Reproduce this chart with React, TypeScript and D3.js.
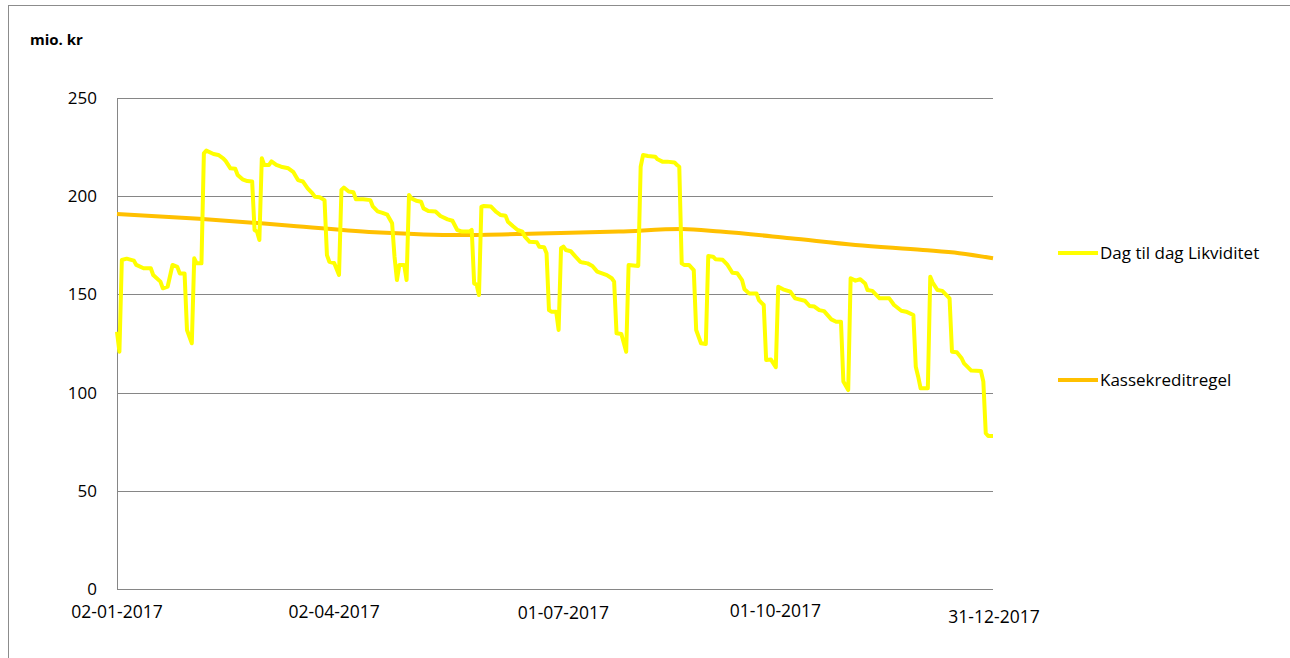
import React, { useEffect, useRef } from 'react';
import * as d3 from 'd3';

// days counted from 02-01-2017
const liquidityDays = [
  0, 1, 2, 4, 7, 8, 11, 14, 15, 18, 19, 21, 23, 25, 26, 28, 29, 31, 32, 33,
  35, 36, 37, 40, 42, 44, 45, 47, 49, 50, 52, 54, 56, 57, 58, 59, 60, 61, 63, 64,
  66, 68, 71, 73, 75, 77, 79, 81, 82, 84, 86, 87, 88, 90, 92, 93, 94, 96, 98, 99,
  102, 105, 106, 108, 110, 112, 114, 115, 116, 117, 119, 120, 121, 122, 124, 126, 127, 129, 132, 134,
  137, 139, 141, 143, 146, 147, 148, 149, 150, 151, 152, 155, 157, 159, 161, 162, 164, 166, 168, 169,
  171, 174, 175, 177, 178, 179, 180, 182, 183, 184, 185, 186, 188, 190, 192, 193, 195, 197, 199, 201,
  203, 205, 206, 207, 209, 211, 212, 216, 217, 218, 220, 223, 224, 226, 228, 231, 232, 233, 234, 235,
  237, 239, 240, 242, 244, 245, 247, 248, 251, 253, 255, 257, 259, 260, 262, 265, 266, 268, 269, 271,
  273, 274, 276, 279, 281, 285, 287, 289, 291, 293, 296, 298, 300, 301, 303, 304, 306, 308, 310, 311,
  313, 316, 320, 322, 325, 327, 330, 331, 332, 333, 336, 337, 338, 340, 342, 345, 346, 348, 350, 351,
  354, 358, 359, 360, 361, 363,
];

const liquidityValues = [
  131, 120.8, 167.5, 168.2, 167.2, 165, 163.3, 163.3, 159.9, 156.5, 153.1, 154, 165, 164, 160.7, 160.7, 131.9, 125.1, 168.4, 165.8,
  165.8, 221.8, 223.2, 221.5, 221, 219.3, 218, 214.2, 214, 210.8, 208.6, 207.7, 207.5, 182.8, 182, 177.7, 219.3, 215.9, 215.9, 217.7,
  215.9, 215, 214.2, 212.4, 208.2, 207.5, 204, 201.4, 199.7, 199.5, 198, 170, 166.6, 166, 159.9, 203.2, 204.4, 202.4, 202, 198.4,
  198.4, 198, 194.8, 192.3, 191.5, 190.6, 186.2, 169.2, 157.3, 165, 165, 157.3, 200.6, 198.9, 197.7, 197.2, 193.8, 192.5, 192.2, 189.9,
  188.2, 187.5, 182.8, 182, 182, 182.8, 155.6, 155, 149.7, 194.7, 195, 194.7, 192.1, 190.4, 190, 187, 184.8, 182.8, 182, 179.4,
  176.8, 176.5, 174.3, 174, 170.9, 142, 141.2, 141.2, 131.9, 173.5, 174.3, 172.6, 172, 169.2, 166.6, 166.2, 165.8, 164.5, 161.6, 160.7,
  159.8, 158.2, 156.5, 130.2, 129.8, 120.8, 165, 164.5, 215, 221, 220.5, 220.1, 218.8, 217.6, 217.6, 217.2, 215.9, 215, 165.8, 165,
  165, 162.4, 131.9, 125.1, 124.8, 169.5, 169.2, 167.9, 167.6, 165, 161, 160.8, 157.3, 152.6, 150.5, 150.5, 147.1, 144.6, 116.6, 116.8,
  112.9, 153.9, 152.6, 151.4, 148, 146.8, 144.1, 143.8, 142, 141.5, 137.3, 136.1, 136.1, 105.6, 101.3, 158.2, 157, 157.7, 155.6, 152.2,
  151.8, 148, 148, 144.6, 141.7, 141.2, 139.5, 113.2, 108.1, 102.2, 102.2, 159, 156, 152.2, 151.8, 148, 120.8, 120.5, 117.5, 114.9,
  111.2, 111, 105.6, 79.3, 77.9, 77.9,
];

const ruleDays = [0, 34, 72, 109, 142, 175, 208, 234, 250, 279, 306, 334, 349, 363];
const ruleValues = [191, 188.5, 185, 181.5, 180.2, 181, 182, 183.3, 182, 178.6, 175.2, 172.6, 171, 168.4];

const xTickDates = ['2017-01-02', '2017-04-02', '2017-07-01', '2017-10-01', '2017-12-31'];
const yTicks = [0, 50, 100, 150, 200, 250];

const seriesNames = ['Dag til dag Likviditet', 'Kassekreditregel'];
const seriesColors = ['#FFFF00', '#FFC000'];

const font = '"Open Sans", sans-serif';

const App: React.FC = () => {
  const width = 1290;
  const height = 658;
  const svgRef = useRef<SVGSVGElement>(null);

  useEffect(() => {
    if (!svgRef.current) return;
    const svg = d3.select(svgRef.current);
    svg.selectAll('*').remove();

    const start = new Date(Date.UTC(2017, 0, 2));
    const end = new Date(Date.UTC(2017, 11, 31));

    const x = d3.scaleUtc().domain([start, end]).range([117, 993]);
    const y = d3.scaleLinear().domain([0, 250]).range([589, 98]);

    // outer frame
    svg.append('rect')
      .attr('x', 8.5).attr('y', 5.5)
      .attr('width', width).attr('height', height)
      .attr('fill', 'white')
      .attr('stroke', '#8c8c8c');

    // gridlines
    yTicks.filter(t => t > 0).forEach(t => {
      svg.append('line')
        .attr('x1', 117).attr('x2', 993)
        .attr('y1', Math.round(y(t)) + 0.5).attr('y2', Math.round(y(t)) + 0.5)
        .attr('stroke', '#868686')
        .attr('stroke-width', 1);
    });

    // axes lines
    svg.append('line')
      .attr('x1', 117.5).attr('x2', 117.5)
      .attr('y1', y(250)).attr('y2', y(0))
      .attr('stroke', '#868686');
    svg.append('line')
      .attr('x1', 117).attr('x2', 993)
      .attr('y1', Math.round(y(0)) + 0.5).attr('y2', Math.round(y(0)) + 0.5)
      .attr('stroke', '#868686');

    yTicks.forEach(t => {
      svg.append('text')
        .attr('x', 97)
        .attr('y', y(t) + 6)
        .attr('text-anchor', 'end')
        .attr('font-family', font)
        .attr('font-size', 17)
        .attr('fill', '#000')
        .text(t.toString());
    });

    const fmt = d3.utcFormat('%d-%m-%Y');
    const parse = d3.utcParse('%Y-%m-%d');
    // small nudges the original layout has on some labels
    const nudgeX = [0, 0, 12, 2, 1];
    const nudgeY = [0, 0, 1, -1, 5];
    xTickDates.forEach((s, i) => {
      const d = parse(s) as Date;
      svg.append('text')
        .attr('x', x(d) + nudgeX[i])
        .attr('y', 618 + nudgeY[i])
        .attr('text-anchor', 'middle')
        .attr('font-family', font)
        .attr('font-size', 17.5)
        .attr('fill', '#000')
        .text(fmt(d));
    });

    svg.append('text')
      .attr('x', 30).attr('y', 45)
      .attr('font-family', font)
      .attr('font-weight', 'bold')
      .attr('font-size', 15)
      .attr('fill', '#000')
      .text('mio. kr');

    const line = d3.line<[number, number]>()
      .x(d => x(d3.utcDay.offset(start, d[0])))
      .y(d => y(d[1]));

    const ruleData: [number, number][] = ruleDays.map((d, i) => [d, ruleValues[i]]);
    const liqData: [number, number][] = liquidityDays.map((d, i) => [d, liquidityValues[i]]);

    svg.append('path')
      .datum(ruleData)
      .attr('d', line.curve(d3.curveMonotoneX))
      .attr('fill', 'none')
      .attr('stroke', seriesColors[1])
      .attr('stroke-width', 4)
      .attr('stroke-linejoin', 'round');

    svg.append('path')
      .datum(liqData)
      .attr('d', line.curve(d3.curveLinear))
      .attr('fill', 'none')
      .attr('stroke', seriesColors[0])
      .attr('stroke-width', 4)
      .attr('stroke-linejoin', 'round');

    // legend
    const legendY = [253, 380];
    seriesNames.forEach((name, i) => {
      svg.append('line')
        .attr('x1', 1058).attr('x2', 1098)
        .attr('y1', legendY[i]).attr('y2', legendY[i])
        .attr('stroke', seriesColors[i])
        .attr('stroke-width', 4);
      svg.append('text')
        .attr('x', 1100)
        .attr('y', legendY[i] + 6)
        .attr('font-family', font)
        .attr('font-size', 17)
        .attr('fill', '#000')
        .text(name);
    });
  }, []);

  return (
    <svg
      ref={svgRef}
      width={width}
      height={height}
      style={{ position: 'absolute', left: 0, top: 0, background: 'white' }}
    />
  );
};

export default App;
